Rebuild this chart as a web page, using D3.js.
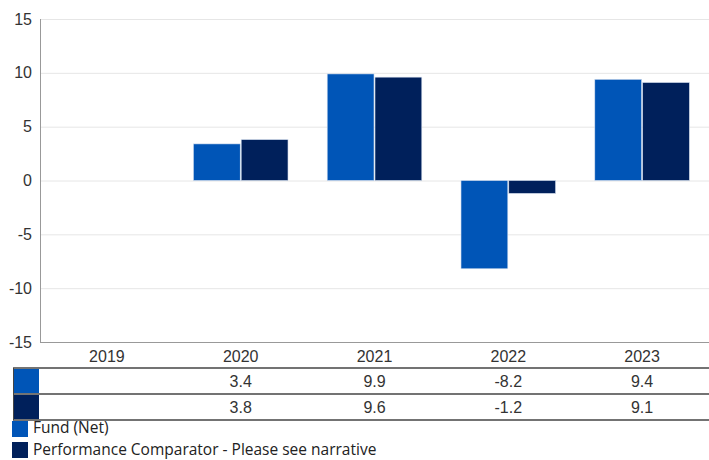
<!DOCTYPE html>
<html>
<head>
<meta charset="utf-8">
<script src="https://cdn.jsdelivr.net/npm/d3@7"></script>
<style>
  body { margin: 0; background: #fff; }
  svg { display: block; }
</style>
</head>
<body>
<svg width="709" height="460"></svg>
<script>
const years = ['2019', '2020', '2021', '2022', '2023'];
const fund = [null, 3.4, 9.9, -8.2, 9.4];
const comparator = [null, 3.8, 9.6, -1.2, 9.1];
const seriesNames = ['Fund (Net)', 'Performance Comparator - Please see narrative'];
const seriesColors = ['#0055b7', '#00205b'];
const yTicks = [-15, -10, -5, 0, 5, 10, 15];

const svg = d3.select('svg');
const plotLeft = 40, plotRight = 709, plotTop = 19, plotBottom = 342;
const armo = '"Liberation Sans", Arial, sans-serif';

const x = d3.scaleBand().domain(years).range([plotLeft, plotRight]);
const xInner = d3.scaleBand().domain([0, 1]).range([0, x.bandwidth()]).paddingOuter(0.41).paddingInner(0.02);
const y = d3.scaleLinear().domain([-15, 15]).range([plotBottom, plotTop]);

// gridlines
svg.append('g')
  .selectAll('line')
  .data(yTicks)
  .enter()
  .append('line')
  .attr('x1', plotLeft)
  .attr('x2', plotRight)
  .attr('y1', d => y(d) + 0.5)
  .attr('y2', d => y(d) + 0.5)
  .style('stroke', '#e6e6e6');

// y axis labels
const yAxis = d3.axisLeft(y).tickValues(yTicks).tickSize(0).tickPadding(8).tickFormat(d => String(d));
const yG = svg.append('g')
  .attr('transform', 'translate(' + plotLeft + ',0)')
  .call(yAxis);
yG.select('.domain').remove();
yG.selectAll('text')
  .style('font-family', armo)
  .style('font-size', '16px')
  .style('fill', '#333');

// bars
const series = [fund, comparator];
series.forEach((vals, s) => {
  svg.append('g')
    .selectAll('rect')
    .data(years.map((yr, i) => ({ yr: yr, v: vals[i] })).filter(d => d.v !== null))
    .enter()
    .append('rect')
    .attr('x', d => x(d.yr) + xInner(s))
    .attr('width', xInner.bandwidth())
    .attr('y', d => y(Math.max(0, d.v)))
    .attr('height', d => Math.abs(y(d.v) - y(0)))
    .style('fill', seriesColors[s])
    .style('stroke', '#d8e2f0')
    .style('stroke-width', 0.6);
});

// axis lines
svg.append('line')
  .attr('x1', plotLeft + 0.5).attr('x2', plotLeft + 0.5)
  .attr('y1', plotTop).attr('y2', plotBottom)
  .style('stroke', '#999');
svg.append('line')
  .attr('x1', plotLeft).attr('x2', plotRight)
  .attr('y1', plotBottom + 0.5).attr('y2', plotBottom + 0.5)
  .style('stroke', '#999');

// data table
const tableLeft = 13;
const rowTops = [368, 394, 420];

const xAxis = d3.axisBottom(x).tickSize(0).tickPadding(0);
const xG = svg.append('g')
  .attr('transform', 'translate(0,' + plotBottom + ')')
  .call(xAxis);
xG.select('.domain').remove();
xG.selectAll('text')
  .attr('dy', null)
  .attr('y', 20)
  .style('font-family', armo)
  .style('font-size', '16px')
  .style('fill', '#333');

rowTops.forEach(ry => {
  svg.append('line')
    .attr('x1', tableLeft).attr('x2', plotRight)
    .attr('y1', ry).attr('y2', ry)
    .style('stroke', '#444')
    .style('stroke-width', 1.5);
});
svg.append('line')
  .attr('x1', tableLeft + 0.5).attr('x2', tableLeft + 0.5)
  .attr('y1', rowTops[0]).attr('y2', rowTops[2])
  .style('stroke', '#444');

series.forEach((vals, s) => {
  const ry = rowTops[s];
  svg.append('rect')
    .attr('x', tableLeft + 1)
    .attr('y', ry + 1)
    .attr('width', 25)
    .attr('height', rowTops[s + 1] - ry - 2)
    .style('fill', seriesColors[s]);
  svg.append('g')
    .selectAll('text')
    .data(years.map((yr, i) => ({ yr: yr, v: vals[i] })).filter(d => d.v !== null))
    .enter()
    .append('text')
    .attr('x', d => x(d.yr) + x.bandwidth() / 2)
    .attr('y', ry + 19)
    .attr('text-anchor', 'middle')
    .style('font-family', armo)
    .style('font-size', '16px')
    .style('fill', '#333')
    .text(d => d.v.toFixed(1));
});

// legend
const legend = svg.append('g')
  .selectAll('g')
  .data(seriesNames)
  .enter()
  .append('g')
  .attr('transform', (d, i) => 'translate(12,' + (421 + i * 21) + ')');
legend.append('rect')
  .attr('width', 16)
  .attr('height', 16)
  .style('fill', (d, i) => seriesColors[i]);
legend.append('text')
  .attr('x', 21)
  .attr('y', (d, i) => 12 + i)
  .style('font-family', '"Open Sans", sans-serif')
  .style('font-size', '15.5px')
  .style('fill', '#222')
  .text(d => d);
</script>
</body>
</html>
